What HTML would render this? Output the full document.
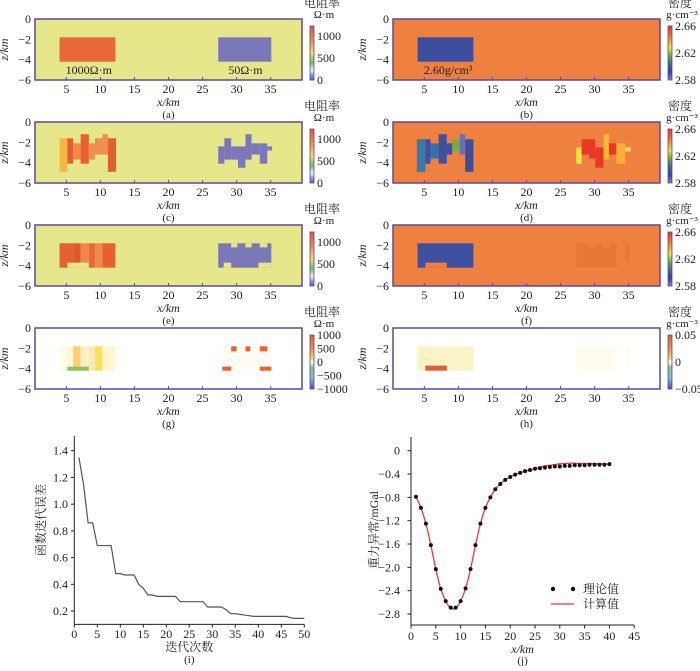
<!DOCTYPE html>
<html><head><meta charset="utf-8"><style>
html,body{margin:0;padding:0;background:#fff;}
svg text{font-family:"Liberation Serif","Noto Serif CJK SC",serif;fill:#222;}
</style></head><body>
<svg id="fig" width="700" height="666" viewBox="0 0 700 666" xmlns="http://www.w3.org/2000/svg">
<defs>
<linearGradient id="gRes" x1="0" y1="0" x2="0" y2="1">
<stop offset="0" stop-color="#e05a30"/><stop offset="0.25" stop-color="#f08a40"/><stop offset="0.5" stop-color="#f4e060"/><stop offset="0.68" stop-color="#70c060"/><stop offset="0.82" stop-color="#e8f4f8"/><stop offset="0.92" stop-color="#8090d0"/><stop offset="1" stop-color="#6a5aa8"/>
</linearGradient>
<linearGradient id="gDen" x1="0" y1="0" x2="0" y2="1">
<stop offset="0" stop-color="#e83028"/><stop offset="0.25" stop-color="#f09030"/><stop offset="0.4" stop-color="#f4e040"/><stop offset="0.55" stop-color="#60b040"/><stop offset="0.7" stop-color="#3a6aa8"/><stop offset="0.85" stop-color="#3a3e98"/><stop offset="1" stop-color="#8a78c0"/>
</linearGradient>
<linearGradient id="gDiv" x1="0" y1="0" x2="0" y2="1">
<stop offset="0" stop-color="#e05a30"/><stop offset="0.3" stop-color="#f0a050"/><stop offset="0.45" stop-color="#f4e060"/><stop offset="0.5" stop-color="#ffffff"/><stop offset="0.6" stop-color="#90c870"/><stop offset="0.8" stop-color="#80b8e0"/><stop offset="1" stop-color="#5a4aa0"/>
</linearGradient>
</defs>
</svg>
<script>
// ---- heatmap data (km, km, z, z, colour) ----
const panelLabels = ['(a)','(b)','(c)','(d)','(e)','(f)','(g)','(h)'];
const xTicks = [5,10,15,20,25,30,35];
const zTicks = [0,-2,-4,-6];
const resTicks = ['1000','500','0'];
const denTicks = ['2.66','2.62','2.58'];
const gTicks = ['1000','500','0','\u2212500','\u22121000'];
const hTicks = ['0.05','0','\u22120.05'];
const cellsA = [[4,12.2,-1.8,-4.2,'#e8683a'],[27.3,35.1,-1.8,-4.2,'#7a78b8']];
const cellsB = [[4,12.2,-1.8,-4.2,'#3e4e9e']];
const cellsC = [[4,5.15,-1.6,-4.9,'#f4b840'],[5.15,6,-1.6,-4.1,'#e06030'],[6,7.1,-2.1,-3.7,'#f08848'],[7.1,8.3,-1.2,-4.1,'#e86030'],[8.3,9.2,-2.1,-3.7,'#f09050'],[9.2,10.3,-1.6,-3.2,'#f09048'],[10.3,11.1,-1.2,-3.2,'#f09050'],[11.1,12.3,-1.6,-4.9,'#e06030'],
 [27.3,28.2,-2.4,-4.1,'#7a78b8'],[28.2,29.2,-1.6,-3.7,'#7a78b8'],[29.2,30.2,-2.4,-3.7,'#7a78b8'],[30.2,31.3,-2.4,-4.5,'#7a78b8'],[31.3,32.2,-1.2,-3.7,'#7a78b8'],[32.2,33.4,-2.1,-3.2,'#7a78b8'],[33.4,34.5,-2.1,-4.1,'#7a78b8'],[34.5,35.2,-2.4,-2.8,'#7a78b8']];
const cellsD = [[3.9,5.15,-1.7,-4.9,'#3a78a8'],[5.15,5.9,-1.7,-4.1,'#4050a0'],[5.9,7.1,-2.1,-3.6,'#3a70a8'],[7.1,8.3,-1.2,-4.1,'#4050a0'],[8.3,9.1,-2.1,-3.2,'#4050a0'],[9.1,10.2,-1.7,-2.9,'#70b040'],[10.2,11,-1.2,-3.2,'#6a70b8'],[11,12.2,-1.7,-4.9,'#404c98'],
 [27.3,28.1,-2.5,-4.1,'#f0e040'],[28.1,29.2,-1.7,-3.2,'#e83828'],[29.2,30.1,-1.7,-3.6,'#e83828'],[30.1,31.3,-2.5,-4.5,'#e83828'],[31.3,32.1,-1.2,-3.7,'#f8b830'],[32.1,33.2,-2.1,-3.2,'#e83828'],[33.2,34.5,-2.1,-4.1,'#f4b038'],[34.5,35.3,-2.5,-2.9,'#f0e050']];
const cellsE = [[4,6,-1.8,-4.2,'#e86030'],[6,7.1,-1.8,-4.2,'#e05830'],[7.1,8.3,-1.8,-4.2,'#f08848'],[8.3,9.2,-1.8,-4.2,'#e86a38'],[9.2,10.3,-1.8,-4.2,'#f08848'],[10.3,12.2,-1.8,-4.2,'#e86030'],[5.15,8.3,-3.7,-4.2,'#e6e68a'],
 [27.3,35.1,-1.8,-4.2,'#7a78b8'],[29.2,30.1,-1.8,-2.2,'#e6e68a'],[31.3,32.2,-1.8,-2.2,'#e6e68a'],[33.4,34.5,-1.8,-2.2,'#e6e68a'],[28.1,29.2,-3.7,-4.2,'#e6e68a'],[33.2,35.1,-3.7,-4.2,'#e6e68a']];
const cellsF = [[4,12.2,-1.8,-4.2,'#4050a0'],[5.15,8.3,-3.7,-4.2,'#ee8040'],[27.3,33.2,-1.8,-4.2,'#e87838'],[29.2,30.1,-1.8,-2.2,'#ee8040'],[31.3,32.2,-1.8,-2.2,'#ee8040'],[34.5,35.1,-1.8,-3.7,'#e87838']];
const cellsG = [[4,5.15,-1.8,-4.2,'#fffbe8'],[5.15,6,-1.8,-4.2,'#fff6d8'],[6,7.1,-1.8,-4.2,'#fcd070'],[7.1,8.3,-1.8,-4.2,'#fff0c0'],[8.3,9.2,-1.8,-4.2,'#f8e8b8'],[9.2,10.3,-1.8,-4.2,'#f8e060'],[10.3,12.2,-1.8,-4.2,'#fdf6d0'],[5.15,8.3,-3.8,-4.2,'#90c060'],
 [27.3,35.1,-1.8,-4.2,'#fffcf4'],[29.2,30,-1.8,-2.3,'#e86030'],[31.3,32,-1.8,-2.3,'#e86030'],[33.4,34.5,-1.8,-2.3,'#e86030'],[27.9,29.2,-3.8,-4.2,'#e86030'],[33.4,35.1,-3.8,-4.2,'#e86030']];
const cellsH = [[4,12.2,-1.8,-4.2,'#fbf3c8'],[5.15,8.3,-3.7,-4.2,'#e06030'],[27.3,33.2,-1.8,-4.2,'#fffbee'],[34.5,35.1,-1.8,-3.7,'#fffbee']];

// ---- line chart data ----
const iterX = [1,2,3,4,5,6,7,8,9,10,11,12,13,14,15,16,17,18,19,20,21,22,23,24,25,26,27,28,29,30,31,32,33,34,35,36,37,38,39,40,41,42,43,44,45,46,47,48,49,50];
const iterErr = [1.35,1.15,0.86,0.86,0.69,0.69,0.69,0.69,0.48,0.48,0.47,0.47,0.47,0.40,0.37,0.32,0.32,0.31,0.31,0.31,0.31,0.31,0.27,0.27,0.27,0.27,0.27,0.27,0.23,0.23,0.23,0.23,0.21,0.18,0.18,0.175,0.17,0.165,0.16,0.16,0.16,0.16,0.16,0.16,0.16,0.16,0.15,0.145,0.145,0.145];
const iterXTicks = [0,5,10,15,20,25,30,35,40,45,50];
const iterYTicks = [0.2,0.4,0.6,0.8,1.0,1.2,1.4];
const gravX = [1,2,3,4,5,6,7,8,9,10,11,12,13,14,15,16,17,18,19,20,21,22,23,24,25,26,27,28,29,30,31,32,33,34,35,36,37,38,39,40];
const gravTheory = [-0.79,-0.98,-1.25,-1.62,-2.03,-2.37,-2.58,-2.69,-2.69,-2.58,-2.36,-2.03,-1.62,-1.25,-0.98,-0.80,-0.66,-0.57,-0.50,-0.45,-0.41,-0.38,-0.35,-0.33,-0.31,-0.30,-0.29,-0.28,-0.27,-0.27,-0.26,-0.26,-0.25,-0.25,-0.25,-0.24,-0.24,-0.24,-0.24,-0.23];
const gravCalc = [-0.79,-0.98,-1.25,-1.62,-2.03,-2.37,-2.58,-2.70,-2.70,-2.58,-2.36,-2.03,-1.62,-1.25,-0.98,-0.80,-0.66,-0.57,-0.50,-0.45,-0.41,-0.38,-0.35,-0.33,-0.31,-0.28,-0.26,-0.25,-0.24,-0.225,-0.22,-0.215,-0.215,-0.22,-0.22,-0.22,-0.22,-0.225,-0.225,-0.23];
const gravXTicks = [0,5,10,15,20,25,30,35,40,45];
const gravYTicks = [0,-0.4,-0.8,-1.2,-1.6,-2.0,-2.4,-2.8];

const NS='http://www.w3.org/2000/svg';
const svg=document.getElementById('fig');
function mk(tag,attrs,parent){const e=document.createElementNS(NS,tag);for(const k in attrs)e.setAttribute(k,attrs[k]);(parent||svg).appendChild(e);return e;}
function txt(s,x,y,size,anchor,parent,extra){const t=mk('text',Object.assign({x:x,y:y,'font-size':size,'text-anchor':anchor||'middle'},extra||{}),parent);t.textContent=s;return t;}
function fmt(v){return (v<0?'\u2212':'')+Math.abs(v);}

function panel(name,fx,fy,bg,cells,cbGrad,cbTitle,cbUnit,cbTicks,idx,annots){
  const g=mk('g',{});
  
  
  const W=267,H=61;
  const sx=v=>fx+(v-0.4)/(39.2)*W;
  const sz=v=>fy+(-v)/6*H;
  mk('rect',{x:fx,y:fy,width:W,height:H,fill:bg},g);
  cells.forEach(c=>{
    const r=mk('rect',{x:sx(c[0]),y:sz(c[2]),width:sx(c[1])-sx(c[0]),height:sz(c[3])-sz(c[2]),fill:c[4]},g);
    
    
  });
  mk('rect',{x:fx,y:fy,width:W,height:H,fill:'none',stroke:'#5a4a9a','stroke-width':1.5},g);
  xTicks.forEach(t=>{mk('line',{x1:sx(t),x2:sx(t),y1:fy+H,y2:fy+H-3,stroke:'#5a4a9a'},g);txt(String(t),sx(t),fy+H+13,12,'middle',g);});
  zTicks.forEach(t=>{txt(fmt(t),fx-4,sz(t)+4,12,'end',g);});
  const yl=txt('z/km',fx-27,fy+H/2,12,'middle',g,{transform:'rotate(-90 '+(fx-27)+' '+(fy+H/2)+')','font-style':'italic'});
  txt('x/km',fx+W/2,fy+H+26,12,'middle',g,{'font-style':'italic'});
  txt(panelLabels[idx],fx+W/2,fy+H+38,11,'middle',g);
  const cbx=fx+W+8,cby=fy+7,cbh=H-7;
  const cb=mk('rect',{x:cbx,y:cby,width:4,height:cbh,fill:'url(#'+cbGrad+')',stroke:'#5a4a9a','stroke-width':0.8},g);
  
  
  txt(cbTitle,cbx+12,fy-12,12,'middle',g);
  txt(cbUnit,cbx+14,fy-1,11,'middle',g);
  const n=cbTicks.length;
  cbTicks.forEach((t,i)=>{const y=(n===3&&cbGrad==='gRes')?[cby+10,cby+32,cby+cbh][i]:cby+(cbh)*i/(n-1);txt(t,cbx+7,y+4,12,'start',g);});
  (annots||[]).forEach(a=>txt(a[0],sx(a[1]),sz(a[2])+4,12,'middle',g));
}
const LX=35,RX=393,rows=[19,122,225,328];
panel('panel-a-resistivity-true',LX,rows[0],'#e6e68a',cellsA,'gRes','电阻率','Ω·m',resTicks,0,[['1000Ω·m',8.3,-5],['50Ω·m',31.3,-5]]);
panel('panel-b-density-true',RX,rows[0],'#ee8040',cellsB,'gDen','密度','g·cm⁻³',denTicks,1,[['2.60g/cm³',8.5,-5]]);
panel('panel-c-resistivity-inv',LX,rows[1],'#e6e68a',cellsC,'gRes','电阻率','Ω·m',resTicks,2);
panel('panel-d-density-inv',RX,rows[1],'#ee8040',cellsD,'gDen','密度','g·cm⁻³',denTicks,3);
panel('panel-e-resistivity-joint',LX,rows[2],'#e6e68a',cellsE,'gRes','电阻率','Ω·m',resTicks,4);
panel('panel-f-density-joint',RX,rows[2],'#ee8040',cellsF,'gDen','密度','g·cm⁻³',denTicks,5);
panel('panel-g-resistivity-diff',LX,rows[3],'#ffffff',cellsG,'gDiv','电阻率','Ω·m',gTicks,6);
panel('panel-h-density-diff',RX,rows[3],'#ffffff',cellsH,'gDiv','密度','g·cm⁻³',hTicks,7);

// ---- (i) iteration error ----
(function(){
  const g=mk('g',{});
  
  
  const x=v=>74.3+v*4.6, y=v=>624.4-(v-0.1)/0.1*13.36;
  mk('line',{x1:74.3,x2:74.3,y1:436,y2:624.4,stroke:'#222'},g);
  mk('line',{x1:74.3,x2:x(50),y1:624.4,y2:624.4,stroke:'#222'},g);
  iterXTicks.forEach(t=>{mk('line',{x1:x(t),x2:x(t),y1:624.4,y2:627.5,stroke:'#222'},g);txt(String(t),x(t),638,12,'middle',g);});
  iterYTicks.forEach(t=>{mk('line',{x1:74.3,x2:71,y1:y(t),y2:y(t),stroke:'#222'},g);txt(t.toFixed(1),68,y(t)+4,12,'end',g);});
  const p=mk('polyline',{points:iterX.map((v,i)=>x(v)+','+y(iterErr[i])).join(' '),fill:'none',stroke:'#555','stroke-width':1.2},g);
  
  
  txt('迭代次数',x(25),651,12,'middle',g);
  txt('(i)',x(25),663,11,'middle',g);
  txt('函数迭代误差',45,520,12,'middle',g,{transform:'rotate(-90 45 520)'});
})();

// ---- (j) gravity ----
(function(){
  const g=mk('g',{});
  
  
  const x=v=>411+v*4.96, y=v=>450.7-(v/-0.4)*(-23.33)*-1;
  const Y=v=>450.7+(-v)/0.4*23.33;
  mk('line',{x1:411,x2:411,y1:437,y2:625,stroke:'#222'},g);
  mk('line',{x1:411,x2:x(45),y1:625,y2:625,stroke:'#222'},g);
  gravXTicks.forEach(t=>{mk('line',{x1:x(t),x2:x(t),y1:625,y2:628.5,stroke:'#222'},g);txt(String(t),x(t),640,12,'middle',g);});
  gravYTicks.forEach(t=>{mk('line',{x1:411,x2:407.5,y1:Y(t),y2:Y(t),stroke:'#222'},g);txt(t===0?'0':fmt(Number(t.toFixed(1))).replace(/(\d)$/,'$1').replace(/^(\u2212?\d)$/,'$1.0'),400,Y(t)+4,12,'end',g);});
  // smooth curve (Catmull-Rom)
  const P=gravX.map((v,i)=>[x(v),Y(gravCalc[i])]);
  let d='M'+P[0][0]+','+P[0][1];
  for(let i=0;i<P.length-1;i++){const p0=P[i-1]||P[i],p1=P[i],p2=P[i+1],p3=P[i+2]||p2;
    d+=' C'+(p1[0]+(p2[0]-p0[0])/6)+','+(p1[1]+(p2[1]-p0[1])/6)+' '+(p2[0]-(p3[0]-p1[0])/6)+','+(p2[1]-(p3[1]-p1[1])/6)+' '+p2[0]+','+p2[1];}
  const c=mk('path',{d:d,fill:'none',stroke:'#e83a3a','stroke-width':1.3},g);
  
  
  gravX.forEach((v,i)=>{const dot=mk('circle',{cx:x(v),cy:Y(gravTheory[i]),r:2,fill:'#111'},g);
    
    });
  mk('circle',{cx:553,cy:589,r:2.2,fill:'#111'},g);mk('circle',{cx:573,cy:589,r:2.2,fill:'#111'},g);
  txt('理论值',583,593,12,'start',g);
  mk('line',{x1:551,x2:574,y1:604,y2:604,stroke:'#e83a3a','stroke-width':1.3},g);
  txt('计算值',583,608,12,'start',g);
  txt('x/km',x(22.5),653,12,'middle',g,{'font-style':'italic'});
  txt('(j)',x(22.5),664,11,'middle',g);
  txt('重力异常/mGal',378,530,12,'middle',g,{transform:'rotate(-90 378 530)'});
})();
</script>
</body></html>
